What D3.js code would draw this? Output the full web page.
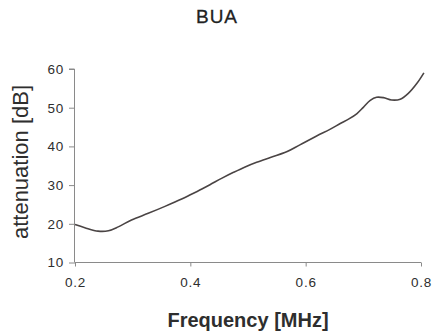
<!DOCTYPE html>
<html>
<head>
<meta charset="utf-8">
<script src="https://cdn.jsdelivr.net/npm/d3@7"></script>
<style>
  html, body { margin: 0; padding: 0; background: #fff; }
  svg { display: block; font-family: "Liberation Sans", Arial, sans-serif; }
</style>
</head>
<body>
<svg id="chart" width="433" height="334"></svg>
<script>
const title = "BUA";
const xLabel = "Frequency [MHz]";
const yLabel = "attenuation [dB]";
const xTicks = [0.2, 0.4, 0.6, 0.8];
const yTicks = [10, 20, 30, 40, 50, 60];
const freq = [0.200, 0.217, 0.240, 0.258, 0.275, 0.298, 0.327, 0.356, 0.385, 0.400, 0.420, 0.434, 0.455, 0.475, 0.495, 0.515, 0.540, 0.567, 0.590, 0.619, 0.642, 0.660, 0.675, 0.689, 0.700, 0.712, 0.723, 0.735, 0.749, 0.764, 0.778, 0.793, 0.805];
const atten = [19.8, 19.0, 18.1, 18.2, 19.2, 21.0, 22.7, 24.5, 26.4, 27.5, 29.0, 30.1, 31.8, 33.3, 34.7, 35.9, 37.2, 38.6, 40.4, 42.7, 44.4, 45.9, 47.1, 48.5, 50.1, 51.9, 52.7, 52.6, 52.0, 52.2, 53.7, 56.3, 59.0];

const svg = d3.select("#chart");
const x = d3.scaleLinear().domain([0.2, 0.8]).range([75, 421]);
const y = d3.scaleLinear().domain([10, 60]).range([262.5, 69]);
const axisColor = "#8a8a8a";
const textColor = "#2e2e2e";

// title
svg.append("text").attr("x", 217).attr("y", 23).attr("text-anchor", "middle")
  .attr("font-size", 19).attr("fill", "#222").attr("stroke", "#222").attr("stroke-width", 0.3)
  .attr("letter-spacing", 1).text(title);

// y axis
const yAxis = svg.append("g").attr("transform", "translate(75,0)")
  .call(d3.axisLeft(y).tickValues(yTicks).tickSize(6).tickPadding(5).tickFormat(d3.format("d")));
yAxis.select(".domain").attr("stroke", axisColor).attr("d", `M-0.5,${y(10)}V${y(60)}H-6`);
yAxis.selectAll(".tick line").attr("stroke", axisColor);
yAxis.selectAll(".tick text").attr("font-size", 13.5).attr("fill", textColor)
  .attr("font-family", "Liberation Sans, Arial, sans-serif").attr("letter-spacing", 0.8);

// x axis
const xAxis = svg.append("g").attr("transform", "translate(0,262.5)")
  .call(d3.axisBottom(x).tickValues(xTicks).tickSize(4).tickPadding(11).tickFormat(d3.format(".1f")));
xAxis.select(".domain").attr("stroke", axisColor).attr("d", `M${x(0.2)},0H${x(0.8)}`);
xAxis.selectAll(".tick line").attr("stroke", axisColor);
xAxis.selectAll(".tick text").attr("font-size", 13.5).attr("fill", textColor)
  .attr("font-family", "Liberation Sans, Arial, sans-serif").attr("letter-spacing", 0.8);

// axis labels
svg.append("text").attr("x", 248).attr("y", 327).attr("text-anchor", "middle")
  .attr("font-size", 20).attr("font-weight", "bold").attr("fill", textColor).text(xLabel);
svg.append("text").attr("transform", "translate(28,162) rotate(-90)").attr("text-anchor", "middle")
  .attr("font-size", 22).attr("fill", textColor).text(yLabel);

// curve
const pts = freq.map((f, i) => [f, atten[i]]);
svg.append("path").datum(pts)
  .attr("fill", "none").attr("stroke", "#4a4444").attr("stroke-width", 1.6)
  .attr("d", d3.line().x(d => x(d[0])).y(d => y(d[1])).curve(d3.curveCatmullRom));
</script>
</body>
</html>
